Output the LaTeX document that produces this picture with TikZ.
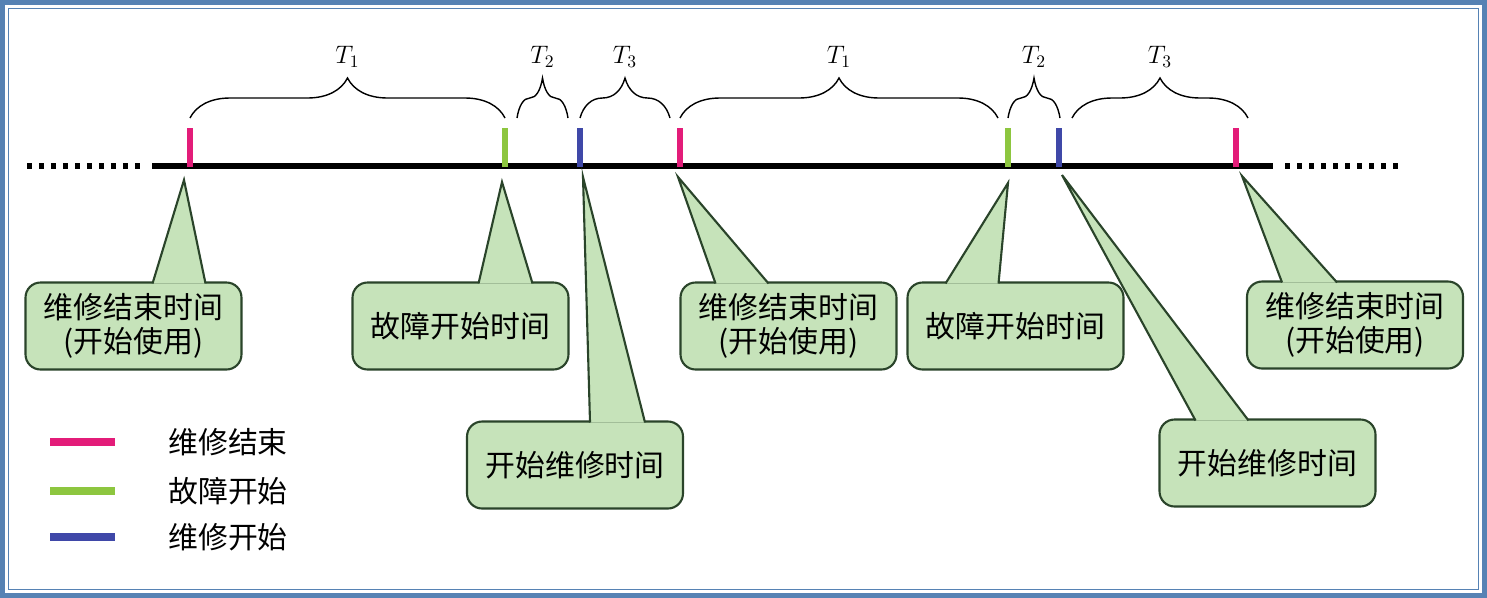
\documentclass[tikz,border=0pt]{standalone}
\usepackage{fontspec}
\newfontfamily\cjk{Noto Sans CJK SC}
\usetikzlibrary{positioning, calc, decorations.pathreplacing}

\definecolor{mendcol}{HTML}{E31C79}
\definecolor{failcol}{HTML}{8DC63F}
\definecolor{repcol}{HTML}{3F48A8}
\definecolor{bubblefill}{HTML}{C6E3BA}
\definecolor{bubbleline}{HTML}{2A442A}
\definecolor{framecol}{HTML}{5682B4}

\begin{document}
\begin{tikzpicture}[x=0.02cm, y=-0.02cm,
    timeline/.style={line width=3.1pt},
    dotline/.style={line width=3.1pt, dash pattern=on 0.1cm off 0.14cm},
    tickmark/.style={line width=3.7pt},
    tbrace/.style={decorate, decoration={brace, amplitude=0.8cm}, line width=0.8pt},
    tlabel/.style={inner sep=0pt, font=\Large},
    bubble/.style={draw=bubbleline, fill=bubblefill, line width=1.2pt, rounded corners=0.3cm,
        minimum width=4.32cm, minimum height=1.74cm, inner sep=0pt, outer sep=0pt, align=center,
        font=\cjk\fontsize{17}{19.5}\selectfont},
    bubbletail/.style={draw=bubbleline, fill=bubblefill, line width=1.2pt, line join=miter},
    legline/.style={line width=5pt},
    legtext/.style={inner sep=0pt, anchor=west, font=\cjk\fontsize{17}{19.5}\selectfont}
]
    \useasboundingbox (0,0) rectangle (1487,598);
    % frame
    \draw[framecol, line width=2.8pt] (2.5,2.5) rectangle (1484.5,595.5);
    \draw[framecol, line width=1.1pt] (8.5,8.5) rectangle (1478.5,589.5);

    % time axis
    \draw[dotline] (27,166) -- (140,166);
    \draw[timeline] (152,166) -- (1273,166);
    \draw[dotline] (1285,166) -- (1398,166);

    \coordinate (m1) at (190,167);
    \coordinate (m2) at (505,167);
    \coordinate (m3) at (580,167);
    \coordinate (m4) at (680,167);
    \coordinate (m5) at (1008,167);
    \coordinate (m6) at (1059,167);
    \coordinate (m7) at (1236,167);

    \draw[tickmark, mendcol] (m1) -- ++(0,-39);
    \draw[tickmark, failcol] (m2) -- ++(0,-39);
    \draw[tickmark, repcol] (m3) -- ++(0,-39);
    \draw[tickmark, mendcol] (m4) -- ++(0,-39);
    \draw[tickmark, failcol] (m5) -- ++(0,-39);
    \draw[tickmark, repcol] (m6) -- ++(0,-39);
    \draw[tickmark, mendcol] (m7) -- ++(0,-39);

    % periods
    \draw[tbrace] (190,118) -- node[tlabel, above=1cm] {$T_1$} (505,118);
    \draw[tbrace] (517,118) -- node[tlabel, above=1cm] {$T_2$} (568,118);
    \draw[tbrace] (580,118) -- node[tlabel, above=1cm] {$T_3$} (670,118);
    \draw[tbrace] (680,118) -- node[tlabel, above=1cm] {$T_1$} (998,118);
    \draw[tbrace] (1008,118) -- node[tlabel, above=1cm] {$T_2$} (1060,118);
    \draw[tbrace] (1072,118) -- node[tlabel, above=1cm] {$T_3$} (1248,118);

    % callouts
    \node[bubble] (c1) at (133.5,326) {维修结束时间\\(开始使用)};
    \node[bubble] (c2) at (460.5,326) {故障开始时间};
    \node[bubble] (c3) at (575,465) {开始维修时间};
    \node[bubble] (c4) at (788.5,326) {维修结束时间\\(开始使用)};
    \node[bubble] (c5) at (1015.5,326) {故障开始时间};
    \node[bubble] (c6) at (1267.5,463) {开始维修时间};
    \node[bubble] (c7) at (1355,325) {维修结束时间\\(开始使用)};

    \coordinate (p1) at (184,180);
    \coordinate (p2) at (502,182);
    \coordinate (p3) at (583,177);
    \coordinate (p4) at (678,177);
    \coordinate (p5) at (1008,183);
    \coordinate (p6) at (1062,175);
    \coordinate (p7) at (1242,176);

    \path[bubbletail] ($(c1.north west)+(127,1)$) -- (p1) -- ($(c1.north west)+(180,1)$);
    \path[bubbletail] ($(c2.north west)+(126,1)$) -- (p2) -- ($(c2.north west)+(180,1)$);
    \path[bubbletail] ($(c3.north west)+(123,1)$) -- (p3) -- ($(c3.north west)+(178,1)$);
    \path[bubbletail] ($(c4.north west)+(35,1)$) -- (p4) -- ($(c4.north west)+(88,1)$);
    \path[bubbletail] ($(c5.north west)+(38,1)$) -- (p5) -- ($(c5.north west)+(91,1)$);
    \path[bubbletail] ($(c6.north west)+(36,1)$) -- (p6) -- ($(c6.north west)+(89,1)$);
    \path[bubbletail] ($(c7.north west)+(35,1)$) -- (p7) -- ($(c7.north west)+(90,1)$);

    % legend
    \draw[legline, mendcol] (50,442) -- ++(65,0) coordinate (s1);
    \draw[legline, failcol] (50,491) -- ++(65,0) coordinate (s2);
    \draw[legline, repcol] (50,537) -- ++(65,0) coordinate (s3);
    \node[legtext, right=1.06cm of s1] (lg1) {维修结束};
    \node[legtext, right=1.06cm of s2] (lg2) {故障开始};
    \node[legtext, right=1.06cm of s3] (lg3) {维修开始};
\end{tikzpicture}
\end{document}
